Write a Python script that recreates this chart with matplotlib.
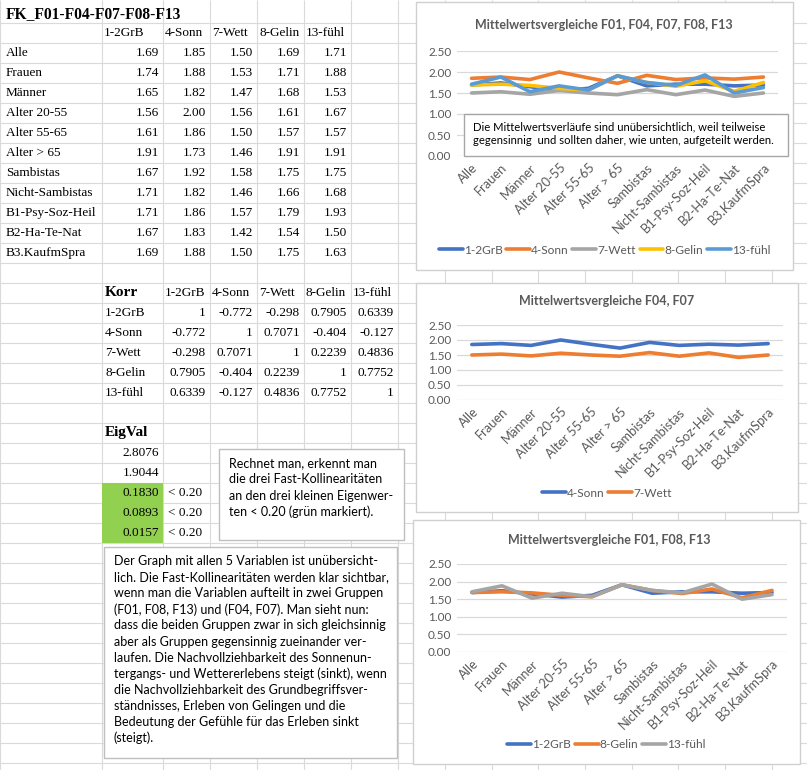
import numpy as np
import matplotlib.pyplot as plt
from matplotlib.patches import Rectangle

W, H = 807, 770

# ---- data ----
groups = ['Alle', 'Frauen', 'Männer', 'Alter 20-55', 'Alter 55-65', 'Alter > 65',
          'Sambistas', 'Nicht-Sambistas', 'B1-Psy-Soz-Heil', 'B2-Ha-Te-Nat', 'B3.KaufmSpra']
variables = ['1-2GrB', '4-Sonn', '7-Wett', '8-Gelin', '13-fühl']
grb = [1.69, 1.74, 1.65, 1.56, 1.61, 1.91, 1.67, 1.71, 1.71, 1.67, 1.69]
sonn = [1.85, 1.88, 1.82, 2.00, 1.86, 1.73, 1.92, 1.82, 1.86, 1.83, 1.88]
wett = [1.50, 1.53, 1.47, 1.56, 1.50, 1.46, 1.58, 1.46, 1.57, 1.42, 1.50]
gelin = [1.69, 1.71, 1.68, 1.61, 1.57, 1.91, 1.75, 1.66, 1.79, 1.54, 1.75]
fuehl = [1.71, 1.88, 1.53, 1.67, 1.57, 1.91, 1.75, 1.68, 1.93, 1.50, 1.63]
means = [grb, sonn, wett, gelin, fuehl]

korr = [[1, -0.772, -0.298, 0.7905, 0.6339],
        [-0.772, 1, 0.7071, -0.404, -0.127],
        [-0.298, 0.7071, 1, 0.2239, 0.4836],
        [0.7905, -0.404, 0.2239, 1, 0.7752],
        [0.6339, -0.127, 0.4836, 0.7752, 1]]
eigval = [2.8076, 1.9044, 0.1830, 0.0893, 0.0157]

note_eig = ['Rechnet man, erkennt man',
            'die drei Fast-Kollinearitäten',
            'an den drei kleinen Eigenwer-',
            'ten < 0.20 (grün markiert).']
note_main = ['Der Graph mit allen 5 Variablen ist unübersicht-',
             'lich. Die Fast-Kollinearitäten werden klar sichtbar,',
             'wenn man die Variablen aufteilt in zwei Gruppen',
             '(F01, F08, F13) und (F04, F07). Man sieht nun:',
             'dass die beiden Gruppen zwar in sich gleichsinnig',
             'aber als Gruppen gegensinnig zueinander ver-',
             'laufen. Die Nachvollziehbarkeit des Sonnenun-',
             'tergangs- und Wettererlebens steigt (sinkt), wenn',
             'die Nachvollziehbarkeit des Grundbegriffsver-',
             'ständnisses, Erleben von Gelingen und die',
             'Bedeutung der Gefühle für das Erleben sinkt',
             '(steigt).']
note_chart = ['Die Mittelwertsverläufe sind unübersichtlich, weil teilweise',
              'gegensinnig  und sollten daher, wie unten, aufgeteilt werden.']

xl_colors = ['#4472C4', '#ED7D31', '#A5A5A5', '#FFC000', '#5B9BD5']

serif = 'Liberation Serif'
sans = 'Lato'
grey_txt = '#595959'
fs_cell = 9.5

cols = [0, 102, 163, 210, 257, 304, 351, 398, 445, 492, 538, 585, 632, 678, 725, 772, 819]


def row_y(r):
    # vertical centre of spreadsheet row r
    return 12.7 + 20 * r


def px(x0, y0, x1, y1):
    return [x0 / W, 1 - y1 / H, (x1 - x0) / W, (y1 - y0) / H]


fig = plt.figure(figsize=(W / 100, H / 100), dpi=100)
bg = fig.add_axes([0, 0, 1, 1])
bg.set_xlim(0, W)
bg.set_ylim(H, 0)
bg.axis('off')

# spreadsheet grid
for c in cols:
    bg.vlines(c, 0, H, color='#DADADA', lw=0.8, zorder=1)
for r in range(1, 40):
    bg.hlines(2.7 + 20 * r, 0, W, color='#DADADA', lw=0.8, zorder=1)

# means table
bg.text(6, row_y(0) + 1, 'FK_F01-F04-F07-F08-F13', family=serif, fontsize=11.2,
        fontweight='bold', va='center', zorder=4)
for j, v in enumerate(variables):
    bg.text(cols[j + 1] + 2, row_y(1), v, family=serif, fontsize=fs_cell, va='center', zorder=4)
for i, g in enumerate(groups):
    bg.text(6, row_y(i + 2), g, family=serif, fontsize=fs_cell, va='center', zorder=4)
    for j in range(len(variables)):
        bg.text(cols[j + 2] - 4, row_y(i + 2), '%.2f' % means[j][i], family=serif,
                fontsize=fs_cell, va='center', ha='right', zorder=4)

# correlation table
bg.text(cols[1] + 3, row_y(14), 'Korr', family=serif, fontsize=11, fontweight='bold',
        va='center', zorder=4)
for j, v in enumerate(variables):
    bg.text(cols[j + 2] + 2, row_y(14), v, family=serif, fontsize=fs_cell, va='center', zorder=4)
for i, v in enumerate(variables):
    bg.text(cols[1] + 3, row_y(15 + i), v, family=serif, fontsize=fs_cell, va='center', zorder=4)
    for j in range(len(variables)):
        bg.text(cols[j + 3] - 4, row_y(15 + i), '%.4g' % korr[i][j], family=serif,
                fontsize=fs_cell, va='center', ha='right', zorder=4)

# eigenvalues
bg.text(cols[1] + 3, row_y(21), 'EigVal', family=serif, fontsize=11, fontweight='bold',
        va='center', zorder=4)
for i, ev in enumerate(eigval):
    r = 22 + i
    if ev < 0.2:
        bg.add_patch(Rectangle((cols[1], row_y(r) - 10), cols[2] - cols[1], 20,
                               facecolor='#92D050', edgecolor='none', zorder=2))
        bg.text(cols[2] + 5, row_y(r), '< 0.20', family=serif, fontsize=fs_cell,
                va='center', zorder=4)
    bg.text(cols[2] - 4, row_y(r), '%.4f' % ev, family=serif, fontsize=fs_cell,
            va='center', ha='right', zorder=4)

# text boxes
bg.add_patch(Rectangle((219, 449), 185, 91, facecolor='white', edgecolor='#BFBFBF',
                       lw=1, zorder=3))
for k, line in enumerate(note_eig):
    bg.text(229, 463 + 16.3 * k, line, family=sans, fontsize=9, va='center', zorder=4)

bg.add_patch(Rectangle((104, 547), 293, 211, facecolor='white', edgecolor='#BFBFBF',
                       lw=1, zorder=3))
for k, line in enumerate(note_main):
    bg.text(114, 561 + 16.1 * k, line, family=sans, fontsize=9, va='center', zorder=4)

# charts
charts = [
    dict(box=(416, 2, 793, 270), plot=(457, 51, 778, 156), title=(604, 25), leg=250,
         title_txt='Mittelwertsvergleiche F01, F04, F07, F08, F13',
         series=[0, 1, 2, 3, 4], colors=xl_colors),
    dict(box=(416, 283, 798, 512), plot=(457, 325, 783, 400), title=(607, 301), leg=493,
         title_txt='Mittelwertsvergleiche F04, F07',
         series=[1, 2], colors=xl_colors[:2]),
    dict(box=(413, 520, 800, 764), plot=(457, 564, 787, 652), title=(609, 540), leg=745,
         title_txt='Mittelwertsvergleiche F01, F08, F13',
         series=[0, 3, 4], colors=xl_colors[:3]),
]

x = np.arange(len(groups))
for ch in charts:
    x0, y0, x1, y1 = ch['box']
    bg.add_patch(Rectangle((x0, y0), x1 - x0, y1 - y0, facecolor='white',
                           edgecolor='#D0D0D0', lw=1, zorder=3))
    bg.text(ch['title'][0], ch['title'][1], ch['title_txt'], family=sans, fontsize=9,
            fontweight='bold', color=grey_txt, ha='center', va='center', zorder=4)
    ax = fig.add_axes(px(*ch['plot']), zorder=1)
    ax.patch.set_alpha(0)
    for s, c in zip(ch['series'], ch['colors']):
        ax.plot(x, means[s], color=c, lw=2.6, label=variables[s], solid_capstyle='round')
    ax.set_xlim(-0.5, len(groups) - 0.5)
    ax.set_ylim(0, 2.5)
    ax.set_yticks(np.arange(0, 2.51, 0.5))
    ax.set_yticklabels(['%.2f' % t for t in np.arange(0, 2.51, 0.5)])
    ax.yaxis.grid(True, color='#D9D9D9', lw=0.9)
    ax.set_axisbelow(True)
    ax.set_xticks(x)
    ax.set_xticklabels(groups, rotation=45, ha='right', rotation_mode='anchor')
    for lab in ax.get_yticklabels():
        lab.set_family(sans)
        lab.set_fontsize(8.5)
        lab.set_color(grey_txt)
    for lab in ax.get_xticklabels():
        lab.set_family(sans)
        lab.set_fontsize(9.3)
        lab.set_color(grey_txt)
    ax.tick_params(length=0, pad=4)
    for sp in ax.spines.values():
        sp.set_visible(False)
    ax.legend(loc='center', bbox_to_anchor=((x0 + x1) / 2 / W, 1 - ch['leg'] / H),
              bbox_transform=fig.transFigure, ncol=len(ch['series']), frameon=False,
              prop={'family': sans, 'size': 8.6}, labelcolor=grey_txt,
              handlelength=2.0, columnspacing=0.3, handletextpad=0.1)

# overlay for the note inside the first chart
top = fig.add_axes([0, 0, 1, 1], zorder=2)
top.set_xlim(0, W)
top.set_ylim(H, 0)
top.axis('off')
top.add_patch(Rectangle((464, 114), 324, 42, facecolor='white', edgecolor='#A6A6A6', lw=1))
for k, line in enumerate(note_chart):
    top.text(473, 127 + 14 * k, line, family=sans, fontsize=8.1, va='center')

fig.savefig('out.png', dpi=100)
